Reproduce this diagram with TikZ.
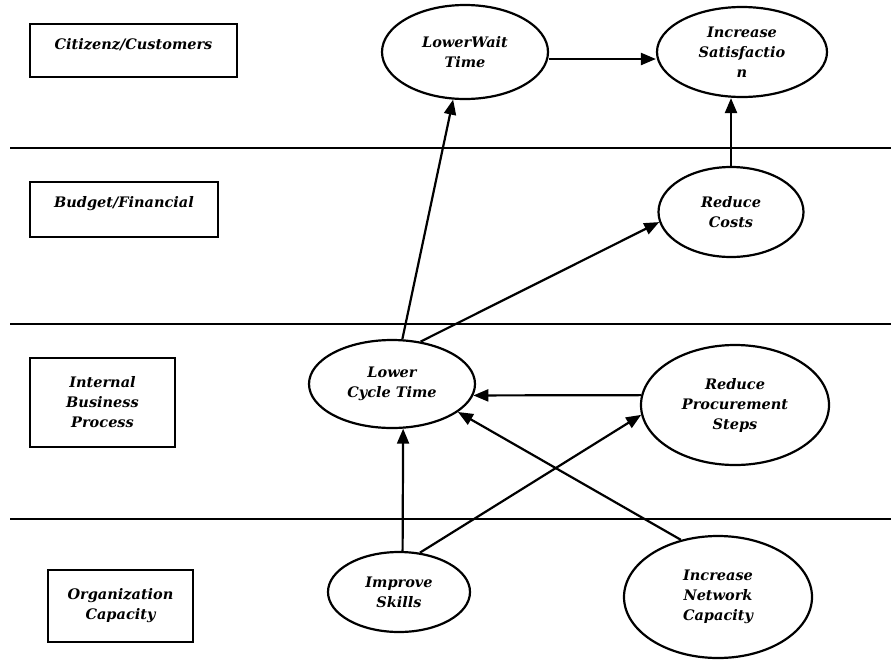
\documentclass[tikz,border=0pt]{standalone}
\usepackage{fontspec}
\setmainfont{DejaVu Serif}
\usepackage{tikz}
\usetikzlibrary{shapes.geometric, arrows.meta, positioning}
\newcommand{\labelfont}{\fontsize{14.5}{20}\selectfont\bfseries\itshape}

\tikzset{
    layerbox/.style={draw, line width=2pt, align=center, inner sep=4pt, font=\labelfont},
    goal/.style={draw, ellipse, line width=2.2pt, align=center, inner sep=0pt, font=\labelfont},
    link/.style={line width=2.2pt, -{Triangle[length=15pt,width=12pt]}},
    layerline/.style={line width=2.2pt}
}

\begin{document}
\begin{tikzpicture}[x=1pt, y=-1pt]
    \useasboundingbox (0,0) rectangle (891,659);

    % Layer separators
    \foreach \y in {148, 324, 519} {
        \draw[layerline] (10,\y) -- (891,\y);
    }

    % Perspectives
    \node[layerbox, minimum width=207pt, text height=21pt, text depth=24pt, anchor=north west] (customers) at (29,23) {Citizenz/Customers};
    \node[layerbox, minimum width=188pt, text height=21pt, text depth=26pt, anchor=north west] (financial) at (29,181) {Budget/Financial};
    \node[layerbox, minimum width=145pt, minimum height=89pt] (process) at (102.5,402.5) {Internal\\Business\\Process};
    \node[layerbox, minimum width=145pt, minimum height=72pt] (capacity) at (120.5,606) {Organization\\Capacity};

    % Objectives
    \node[goal, minimum width=166pt, minimum height=94pt] (waittime) at (465,52) {LowerWait\\Time};
    \node[goal, minimum width=170pt, minimum height=90pt] (satisfaction) at (742,52) {Increase\\Satisfactio\\n};
    \node[goal, minimum width=145pt, minimum height=90pt] (costs) at (731,212) {Reduce\\Costs};
    \node[goal, minimum width=166pt, minimum height=88pt] (cycletime) at (392,384) {Lower\\Cycle Time};
    \node[goal, minimum width=188pt, minimum height=120pt] (procurement) at (735,405) {Reduce\\Procurement\\Steps};
    \node[goal, minimum width=142pt, minimum height=80pt] (skills) at (399,592) {Improve\\Skills};
    \node[goal, minimum width=188pt, minimum height=122pt] (network) at (718,597) {Increase\\Network\\Capacity};

    % Cause and effect
    \draw[link] ([yshift=-7pt]waittime.east) -- ([yshift=-7pt]satisfaction.west);
    \draw[link] (costs.north) -- (costs.north |- satisfaction.south);
    \draw[link] (cycletime.77) -- (waittime.256);
    \draw[link] (cycletime.56) -- (costs.188);
    \draw[link] (procurement.174) -- (cycletime.-8);
    \draw[link] (skills.85) -- (cycletime.-76);
    \draw[link] (skills.62) -- (procurement.186);
    \draw[link] (network.123) -- (cycletime.-23);
\end{tikzpicture}
\end{document}
